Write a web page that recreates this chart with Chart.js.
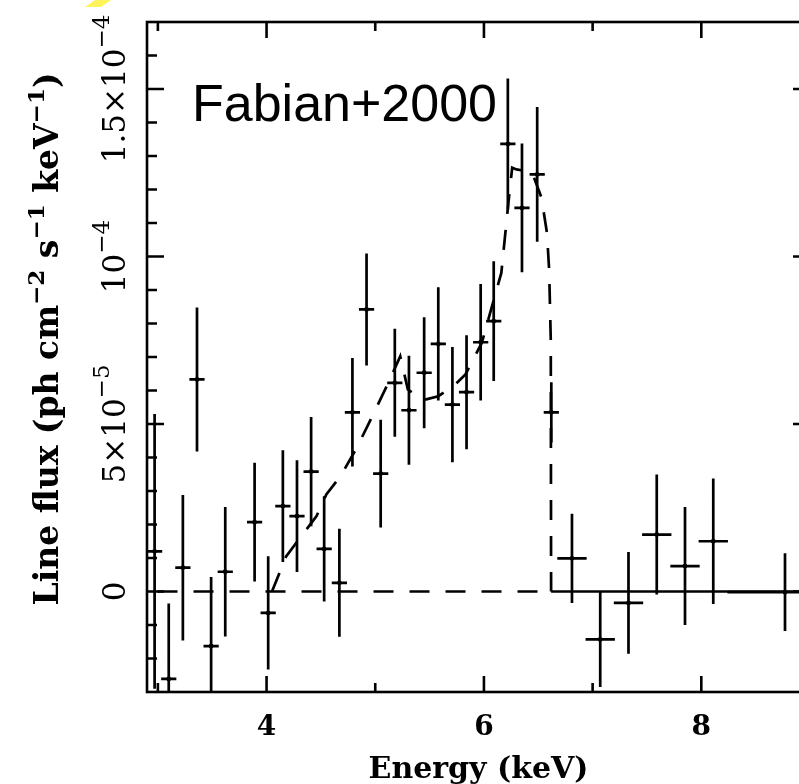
<!DOCTYPE html>
<html>
<head>
<meta charset="utf-8">
<script src="https://cdn.jsdelivr.net/npm/chart.js@4.4.1/dist/chart.umd.min.js"></script>
<style>
  html, body { margin:0; padding:0; background:#fff; overflow:hidden; width:799px; height:784px; }
  #wrap { position:absolute; left:0; top:0; width:830px; height:784px; }
</style>
</head>
<body>
<div id="wrap"><canvas id="c" width="830" height="784"></canvas></div>
<script>
// ---------------- data ----------------
const energy = [2.97, 3.10, 3.23, 3.36, 3.49, 3.62, 3.89, 4.015, 4.15, 4.28, 4.41, 4.53, 4.67, 4.79,
                4.92, 5.05, 5.18, 5.31, 5.45, 5.58, 5.71, 5.84, 5.97, 6.09, 6.22, 6.35, 6.49, 6.62,
                6.81, 7.07, 7.33, 7.59, 7.85, 8.11, 8.77];
const energyErr = [0.07, 0.07, 0.07, 0.07, 0.07, 0.07, 0.07, 0.07, 0.07, 0.07, 0.07, 0.07, 0.07, 0.07,
                   0.07, 0.07, 0.07, 0.07, 0.07, 0.07, 0.07, 0.07, 0.07, 0.07, 0.07, 0.07, 0.07, 0.07,
                   0.135, 0.135, 0.135, 0.135, 0.135, 0.135, 0.53];
const flux = [1.20e-5, -2.61e-5, 0.71e-5, 6.33e-5, -1.63e-5, 0.59e-5, 2.07e-5, -0.64e-5, 2.55e-5, 2.25e-5,
              3.58e-5, 1.27e-5, 0.26e-5, 5.35e-5, 8.42e-5, 3.52e-5, 6.23e-5, 5.41e-5, 6.53e-5, 7.39e-5,
              5.58e-5, 5.95e-5, 7.44e-5, 8.07e-5, 13.36e-5, 11.45e-5, 12.45e-5, 5.35e-5,
              0.99e-5, -1.43e-5, -0.34e-5, 1.70e-5, 0.76e-5, 1.50e-5, -0.02e-5];
const fluxErr = [4.10e-5, 2.25e-5, 2.17e-5, 2.15e-5, 2.06e-5, 1.93e-5, 1.77e-5, 1.69e-5, 1.67e-5, 1.67e-5,
                 1.63e-5, 1.57e-5, 1.61e-5, 1.62e-5, 1.67e-5, 1.61e-5, 1.61e-5, 1.63e-5, 1.66e-5, 1.69e-5,
                 1.72e-5, 1.70e-5, 1.74e-5, 1.79e-5, 1.95e-5, 1.92e-5, 2.01e-5, 0.90e-5,
                 1.33e-5, 1.42e-5, 1.52e-5, 1.79e-5, 1.76e-5, 1.87e-5, 1.16e-5];

// model line (dashed)
const modelEnergy = [4.05, 4.18, 4.25, 4.46, 4.55, 4.68, 4.83, 4.98, 5.12, 5.23, 5.30, 5.44, 5.58, 5.72,
                     5.83, 5.98, 6.16, 6.225, 6.26, 6.30, 6.40, 6.45, 6.53, 6.58, 6.60, 6.615, 6.618];
const modelFlux = [0, 1.05e-5, 1.35e-5, 2.25e-5, 2.90e-5, 3.44e-5, 4.29e-5, 5.28e-5, 6.23e-5, 7.02e-5, 6.03e-5,
                   5.71e-5, 5.83e-5, 6.13e-5, 6.48e-5, 7.42e-5, 9.51e-5, 11.6e-5, 12.65e-5, 12.6e-5, 12.54e-5,
                   12.45e-5, 11.75e-5, 10.7e-5, 9.6e-5, 7.5e-5, 0];

// zero line: dashed up to the line edge, solid afterwards
const zeroDashedEnergy = [2.9, 6.618];
const zeroSolidEnergy = [6.618, 9.0];

// axes
const xRange = [2.9, 9.0];
const yRange = [-3e-5, 1.7e-4];
const xMajorTicks = [4, 6, 8];
const xTickLabels = ['4', '6', '8'];
const xMinorTicks = [3, 5, 7, 9];
const yMajorTicks = [0, 5e-5, 1e-4, 1.5e-4];
const yTickLabels = ['0', '5×10^{−5}', '10^{−4}', '1.5×10^{−4}'];
const yMinorTicks = [-2e-5, -1e-5, 1e-5, 2e-5, 3e-5, 4e-5, 6e-5, 7e-5, 8e-5, 9e-5, 1.1e-4, 1.2e-4, 1.3e-4, 1.4e-4, 1.6e-4];
const xTitle = 'Energy (keV)';
const yTitle = 'Line flux (ph cm^{−2} s^{−1} keV^{−1})';
const annotation = 'Fabian+2000';

// ---------------- build datasets from arrays ----------------
const vBars = [], hBars = [], centers = [];
energy.forEach((e, i) => {
  vBars.push({x: e, y: flux[i] - fluxErr[i]}, {x: e, y: flux[i] + fluxErr[i]}, {x: e, y: null});
  hBars.push({x: e - energyErr[i], y: flux[i]}, {x: e + energyErr[i], y: flux[i]}, {x: e, y: null});
  centers.push({x: e, y: flux[i]});
});
const modelData = modelEnergy.map((e, i) => ({x: e, y: modelFlux[i]}));
const zeroDashed = zeroDashedEnergy.map(e => ({x: e, y: 0}));
const zeroSolid = zeroSolidEnergy.map(e => ({x: e, y: 0}));

const INK = '#000';
const LW = 2.7;

function parseRich(s) {
  const parts = [];
  const re = /\^\{([^}]*)\}/g;
  let last = 0, m;
  while ((m = re.exec(s))) {
    if (m.index > last) parts.push({t: s.slice(last, m.index), sup: false});
    parts.push({t: m[1], sup: true});
    last = re.lastIndex;
  }
  if (last < s.length) parts.push({t: s.slice(last), sup: false});
  return parts;
}
function drawRich(ctx, str, x, y, align, fMain, fSup, raise) {
  const parts = parseRich(str);
  let w = 0;
  parts.forEach(p => { ctx.font = p.sup ? fSup : fMain; w += ctx.measureText(p.t).width; });
  let cx = align === 'center' ? x - w / 2 : (align === 'right' ? x - w : x);
  ctx.textAlign = 'left';
  ctx.textBaseline = 'alphabetic';
  parts.forEach(p => {
    ctx.font = p.sup ? fSup : fMain;
    ctx.fillText(p.t, cx, p.sup ? y - raise : y);
    cx += ctx.measureText(p.t).width;
  });
}

const framePlugin = {
  id: 'frame',
  beforeDraw(chart) {
    const ctx = chart.ctx;
    ctx.save();
    ctx.fillStyle = '#fff';
    ctx.fillRect(0, 0, chart.width, chart.height);
    // yellow highlighter smudge at the top-left corner of the scan
    ctx.fillStyle = '#fff35c';
    ctx.beginPath();
    ctx.moveTo(95, 0); ctx.lineTo(111, 0); ctx.lineTo(101, 7); ctx.lineTo(85, 7); ctx.closePath();
    ctx.fill();
    ctx.restore();
  },
  afterDraw(chart) {
    const ctx = chart.ctx;
    const a = chart.chartArea;
    const xs = chart.scales.x, ys = chart.scales.y;
    ctx.save();
    ctx.strokeStyle = INK;
    ctx.fillStyle = INK;
    ctx.lineWidth = 2.6;
    ctx.lineCap = 'butt';
    ctx.strokeRect(a.left, a.top, a.right - a.left, a.bottom - a.top);
    const MAJ = 16, MIN = 9;
    ctx.beginPath();
    const xt = (v, len) => {
      const p = xs.getPixelForValue(v);
      ctx.moveTo(p, a.bottom); ctx.lineTo(p, a.bottom - len);
      ctx.moveTo(p, a.top); ctx.lineTo(p, a.top + len);
    };
    const yt = (v, len) => {
      const p = ys.getPixelForValue(v);
      ctx.moveTo(a.left, p); ctx.lineTo(a.left + len, p);
      ctx.moveTo(a.right, p); ctx.lineTo(a.right - len, p);
    };
    xMajorTicks.forEach(v => xt(v, MAJ));
    xMinorTicks.forEach(v => xt(v, MIN));
    yMajorTicks.forEach(v => yt(v, MAJ + 1));
    yMinorTicks.forEach(v => yt(v, MIN + 1));
    ctx.stroke();

    // x tick labels
    ctx.font = 'bold 28px "DejaVu Serif"';
    ctx.textAlign = 'center';
    ctx.textBaseline = 'alphabetic';
    xMajorTicks.forEach((v, i) => ctx.fillText(xTickLabels[i], xs.getPixelForValue(v), 735));

    // y tick labels (rotated)
    yMajorTicks.forEach((v, i) => {
      ctx.save();
      ctx.translate(125, ys.getPixelForValue(v));
      ctx.rotate(-Math.PI / 2);
      drawRich(ctx, yTickLabels[i], 0, 0, 'center', '31px "DejaVu Serif"', '23px "DejaVu Serif"', 16);
      ctx.restore();
    });

    // x title
    drawRich(ctx, xTitle, (a.left + a.right) / 2, 778, 'center', 'bold 30px "DejaVu Serif"', 'bold 21px "DejaVu Serif"', 13);

    // y title
    ctx.save();
    ctx.translate(58, 339);
    ctx.rotate(-Math.PI / 2);
    drawRich(ctx, yTitle, 0, 0, 'center', 'bold 33px "DejaVu Serif"', 'bold 23px "DejaVu Serif"', 14);
    ctx.restore();

    // annotation
    ctx.font = '52px "Liberation Sans"';
    ctx.textAlign = 'left';
    ctx.textBaseline = 'alphabetic';
    ctx.fillText(annotation, 192, 121);
    ctx.restore();
  }
};

new Chart(document.getElementById('c'), {
  type: 'scatter',
  data: {
    datasets: [
      { label: 'zero (dashed)', data: zeroDashed, showLine: true, borderColor: INK, borderWidth: LW,
        borderDash: [20, 16], borderDashOffset: 25.5, pointRadius: 0 },
      { label: 'zero (solid)', data: zeroSolid, showLine: true, borderColor: INK, borderWidth: LW, pointRadius: 0 },
      { label: 'model', data: modelData, showLine: true, borderColor: INK, borderWidth: LW,
        borderDash: [20, 16], pointRadius: 0, tension: 0 },
      { label: 'flux error', data: vBars, showLine: true, spanGaps: false, borderColor: INK, borderWidth: LW, pointRadius: 0 },
      { label: 'energy bin', data: hBars, showLine: true, spanGaps: false, borderColor: INK, borderWidth: LW, pointRadius: 0 },
      { label: 'data', data: centers, showLine: false, backgroundColor: INK, borderColor: INK, pointRadius: 2.4, borderWidth: 0 }
    ]
  },
  options: {
    responsive: false,
    animation: false,
    devicePixelRatio: 1,
    layout: { padding: { left: 147, top: 22, right: 20, bottom: 92 } },
    plugins: { legend: { display: false }, tooltip: { enabled: false } },
    events: [],
    scales: {
      x: { type: 'linear', min: xRange[0], max: xRange[1], display: false },
      y: { type: 'linear', min: yRange[0], max: yRange[1], display: false }
    }
  },
  plugins: [framePlugin]
});
</script>
</body>
</html>
